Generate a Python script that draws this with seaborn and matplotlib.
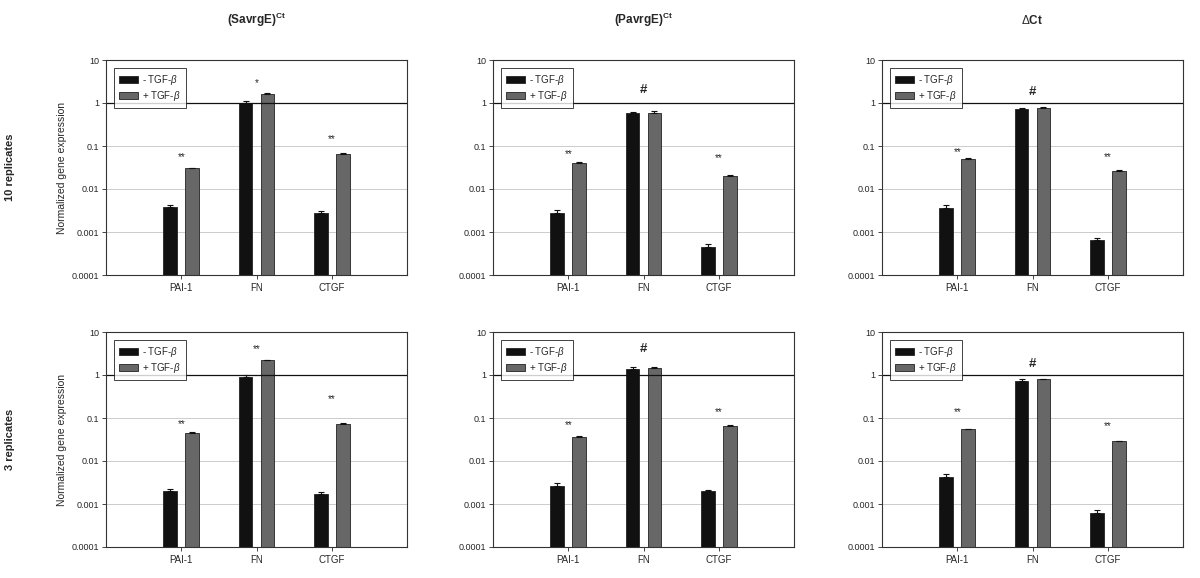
import numpy as np
import pandas as pd
import seaborn as sns
import matplotlib.pyplot as plt
from matplotlib.ticker import FixedLocator, FixedFormatter

categories = ["PAI-1", "FN", "CTGF"]
treatments = ["- TGF-$\\beta$", "+ TGF-$\\beta$"]
col_titles = ["(SavrgE)$^{\\mathregular{Ct}}$", "(PavrgE)$^{\\mathregular{Ct}}$", "$\\Delta$Ct"]
row_titles = ["10 replicates", "3 replicates"]
ytick_labels = ["0.0001", "0.001", "0.01", "0.1", "1", "10"]

# values (minus / plus TGF-beta), one list per panel
sav10_minus = [0.0038, 1.0, 0.0027]
sav10_plus = [0.030, 1.6, 0.064]
pav10_minus = [0.0028, 0.575, 0.00046]
pav10_plus = [0.040, 0.60, 0.0197]
dct10_minus = [0.0037, 0.71, 0.00064]
dct10_plus = [0.051, 0.75, 0.026]
sav3_minus = [0.0020, 0.92, 0.0017]
sav3_plus = [0.046, 2.2, 0.074]
pav3_minus = [0.0026, 1.38, 0.00197]
pav3_plus = [0.037, 1.48, 0.066]
dct3_minus = [0.0043, 0.74, 0.00063]
dct3_plus = [0.0555, 0.80, 0.029]

# upper error bars
sav10_minus_err = [0.00035, 0.12, 0.0004]
sav10_plus_err = [0.0015, 0.08, 0.004]
pav10_minus_err = [0.0004, 0.05, 0.00006]
pav10_plus_err = [0.002, 0.045, 0.001]
dct10_minus_err = [0.0005, 0.053, 0.00007]
dct10_plus_err = [0.002, 0.055, 0.0015]
sav3_minus_err = [0.00027, 0.07, 0.0002]
sav3_plus_err = [0.0005, 0.02, 0.002]
pav3_minus_err = [0.00045, 0.13, 0.0001]
pav3_plus_err = [0.0008, 0.04, 0.001]
dct3_minus_err = [0.00065, 0.07, 0.00008]
dct3_plus_err = [0.001, 0.01, 0.0006]

# significance marks and their heights
sav10_marks = ["**", "*", "**"]
sav10_mark_y = [0.054, 2.87, 0.143]
pav10_marks = ["**", "#", "**"]
pav10_mark_y = [0.065, 2.04, 0.0535]
dct10_marks = ["**", "#", "**"]
dct10_mark_y = [0.071, 1.77, 0.0565]
sav3_marks = ["**", "**", "**"]
sav3_mark_y = [0.071, 4.0, 0.27]
pav3_marks = ["**", "#", "**"]
pav3_mark_y = [0.0675, 3.95, 0.14]
dct3_marks = ["**", "#", "**"]
dct3_mark_y = [0.14, 1.8, 0.066]

panels = [
    [(sav10_minus, sav10_plus, sav10_minus_err, sav10_plus_err, sav10_marks, sav10_mark_y),
     (pav10_minus, pav10_plus, pav10_minus_err, pav10_plus_err, pav10_marks, pav10_mark_y),
     (dct10_minus, dct10_plus, dct10_minus_err, dct10_plus_err, dct10_marks, dct10_mark_y)],
    [(sav3_minus, sav3_plus, sav3_minus_err, sav3_plus_err, sav3_marks, sav3_mark_y),
     (pav3_minus, pav3_plus, pav3_minus_err, pav3_plus_err, pav3_marks, pav3_mark_y),
     (dct3_minus, dct3_plus, dct3_minus_err, dct3_plus_err, dct3_marks, dct3_mark_y)],
]

sns.set_style("white")
plt.rcParams["font.family"] = ["Liberation Sans", "DejaVu Sans"]
plt.rcParams["mathtext.fontset"] = "custom"
plt.rcParams["mathtext.rm"] = "Liberation Sans"
plt.rcParams["mathtext.it"] = "Liberation Sans:italic"
plt.rcParams["mathtext.bf"] = "Liberation Sans:bold"

W, H = 1200, 578
fig = plt.figure(figsize=(W / 100, H / 100), dpi=100)

col_x = [106, 493, 882]
row_y = [60, 332]
ax_w, ax_h = 301, 215
palette = ["#111111", "#676767"]

for r in range(2):
    for c in range(3):
        minus, plus, minus_err, plus_err, marks, mark_y = panels[r][c]
        ax = fig.add_axes([col_x[c] / W, 1 - (row_y[r] + ax_h) / H, ax_w / W, ax_h / H])
        df = pd.DataFrame({
            "gene": categories * 2,
            "treatment": [treatments[0]] * 3 + [treatments[1]] * 3,
            "value": minus + plus,
        })
        sns.barplot(data=df, x="gene", y="value", hue="treatment", order=categories,
                    hue_order=treatments, palette=palette, width=0.584, gap=0.37,
                    saturation=1, edgecolor="#222222", linewidth=0.6, ax=ax, errorbar=None)
        ax.set_yscale("log")

        # error bars at the bar tops (upper side only)
        errs = minus_err + plus_err
        bars = ax.patches[:6]
        for bar, e in zip(bars, errs):
            xc = bar.get_x() + bar.get_width() / 2
            top = bar.get_y() + bar.get_height()
            ax.errorbar(xc, top, yerr=[[0], [e]], color="#111111", capsize=2.5,
                        elinewidth=0.8, capthick=0.8)

        for i, (m, y) in enumerate(zip(marks, mark_y)):
            if m == "#":
                ax.text(i, y, m, ha="center", va="center", fontsize=9.5, fontweight="bold")
            else:
                ax.text(i, y, m, ha="center", va="center", fontsize=7)

        ax.set_xlim(-1, 3)
        ax.set_ylim(1e-4, 10)
        ax.yaxis.set_major_locator(FixedLocator([1e-4, 1e-3, 1e-2, 1e-1, 1, 10]))
        ax.yaxis.set_major_formatter(FixedFormatter(ytick_labels))
        ax.yaxis.set_minor_locator(FixedLocator([]))
        ax.grid(axis="y", color="#cccccc", linewidth=0.7)
        ax.set_axisbelow(True)
        ax.axhline(1, color="#111111", linewidth=0.9, zorder=1)
        ax.tick_params(axis="y", labelsize=6.5, length=3, direction="out", left=True,
                       width=0.6, pad=2)
        ax.tick_params(axis="x", labelsize=7, length=3, direction="out", bottom=True,
                       width=0.6, pad=3)
        for s in ax.spines.values():
            s.set_color("#333333")
            s.set_linewidth(0.8)
        ax.set_xlabel("")
        if c == 0:
            ax.set_ylabel("Normalized gene expression", fontsize=7.5, labelpad=3)
        else:
            ax.set_ylabel("")

        leg = ax.legend(loc="upper left", fontsize=7, frameon=True, fancybox=False,
                        edgecolor="#111111", handlelength=2.0, handleheight=0.7,
                        borderpad=0.5, labelspacing=0.2, handletextpad=0.4,
                        borderaxespad=0, bbox_to_anchor=(0.027, 0.963))
        leg.get_frame().set_linewidth(0.7)

        if r == 0:
            fig.text((col_x[c] + ax_w / 2) / W, 1 - 20 / H, col_titles[c],
                     ha="center", va="center", fontsize=8.5, fontweight="bold")

for r in range(2):
    fig.text(10 / W, 1 - (row_y[r] + ax_h / 2) / H, row_titles[r], rotation=90,
             ha="center", va="center", fontsize=8, fontweight="bold")

fig.savefig("out.png", dpi=100)
